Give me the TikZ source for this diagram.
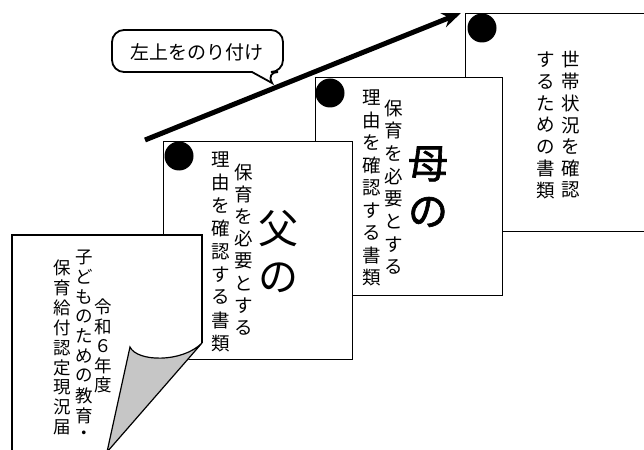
\documentclass[tikz,border=0pt]{standalone}
\usepackage{fontspec}
\newfontfamily\cjk{Noto Sans CJK JP}
\newfontfamily\cjkbold[FakeBold=1.6]{Noto Sans CJK JP}
\usetikzlibrary{arrows.meta}
% #1 name, #2 x, #3 y of first centre, #4 pitch, #5 style, #6 characters
\newcommand\vcolumn[6]{%
  \foreach \ch [count=\i from 0] in {#6} {\node[#5] (#1-\i) at ({#2},{#3+\i*#4}) {\ch};}}
\tikzset{
  page/.style={draw=black, line width=1.2pt, fill=white, inner sep=0pt, anchor=north west},
  pageline/.style={draw=black, line width=1.2pt},
  dot/.style={circle, fill=black, minimum size=29pt, inner sep=0pt},
  jp/.style={font=\cjk\fontsize{18.5}{18.5}\selectfont, inner sep=0pt},
  jpsmall/.style={font=\cjk\fontsize{17.5}{17.5}\selectfont, inner sep=0pt},
  jpbig/.style={font=\cjk\fontsize{40}{40}\selectfont, inner sep=0pt},
  jpbigb/.style={font=\cjkbold\fontsize{40}{40}\selectfont, inner sep=0pt},
  callout/.style={draw=black, line width=1.8pt, fill=white},
  arrowline/.style={line width=5pt, -{Stealth[length=19pt,width=15pt]}},
  flap/.style={draw=black, line width=1.2pt, shading=axis, top color=gray!45, middle color=gray!12, bottom color=gray!45, shading angle=45}
}
\begin{document}
\begin{tikzpicture}[x=1pt, y=-1pt]
\useasboundingbox (0,0) rectangle (644,449);
\clip (0,0) rectangle (644,449);
% page 4
\node[page, minimum width=195pt, minimum height=218pt] (b4) at (465,13) {};
\node[dot] (d4) at (482,28) {};
\vcolumn{b4a}{571}{60}{21.7}{jp}{世,帯,状,況,を,確,認}
\vcolumn{b4b}{546}{60}{21.7}{jp}{す,る,た,め,の,書,類}
% page 3
\node[page, minimum width=187pt, minimum height=218pt] (b3) at (315,77) {};
\node[dot] (d3) at (330,93) {};
\node[jpbigb] (b3m) at (428,164) {母};
\node[jpbigb] (b3n) at (428,212) {の};
\vcolumn{b3a}{394}{108}{22.7}{jp}{保,育,を,必,要,と,す,る}
\vcolumn{b3b}{372}{98}{22.5}{jp}{理,由,を,確,認,す,る,書,類}
% page 2
\node[page, minimum width=189pt, minimum height=218pt] (b2) at (163,141) {};
\node[dot] (d2) at (179,156) {};
\node[jpbig] (b2f) at (278,229) {父};
\node[jpbig] (b2n) at (278,278) {の};
\vcolumn{b2a}{244}{172}{22.3}{jp}{保,育,を,必,要,と,す,る}
\vcolumn{b2b}{221}{160}{22.9}{jp}{理,由,を,確,認,す,る,書,類}
% page 1 with curled corner
\fill[white] (12,470) -- (12,235) -- (202,235) -- (202,343) -- (96,470) -- cycle;
\draw[pageline] (12,470) -- (12,235) -- (202,235) -- (202,343);
\vcolumn{b1a}{103}{307}{19.5}{jpsmall}{令,和,６,年,度}
\vcolumn{b1b}{84}{257}{19.8}{jpsmall}{子,ど,も,の,た,め,の,教,育,・}
\vcolumn{b1c}{62}{268}{19.9}{jpsmall}{保,育,給,付,認,定,現,況,届}
\path[flap] (130,347) .. controls (137,362) and (182,363) .. (202,343) -- (107,452) -- cycle;
% arrow
\coordinate (as) at (145,140);
\coordinate (ae) at (461,13);
\draw[arrowline] (as) -- (ae);
% callout
\draw[callout, rounded corners=12pt] (190,30) -- (283,30) -- (283,72) -- (266,72) [sharp corners] -- (272,83) -- (252,72) [rounded corners=12pt] -- (112,72) -- (112,30) -- cycle;
\node[jp, font=\cjk\fontsize{19}{19}\selectfont] (lbl) at (197,52) {左上をのり付け};
\end{tikzpicture}
\end{document}
